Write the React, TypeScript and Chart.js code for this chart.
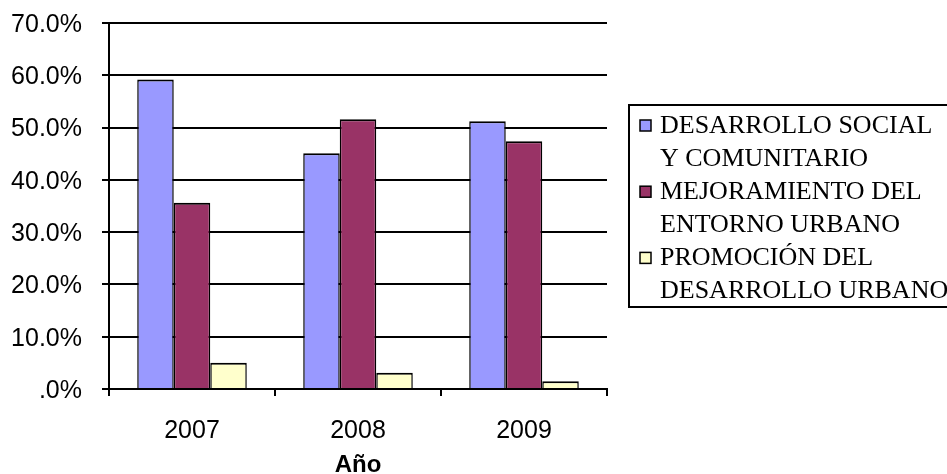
import React, { useEffect, useRef } from "react";
import { Chart, registerables } from "chart.js";

Chart.register(...registerables);

// Categories (years) and share of each programme line, in percent
const years = ["2007", "2008", "2009"];
const desarrolloSocial = [59.2, 45.1, 51.2];
const mejoramientoEntorno = [35.6, 51.6, 47.4];
const promocionDesarrollo = [5.0, 3.1, 1.5];

// Series names, split the way they wrap in the legend
const seriesNames: string[][] = [
  ["DESARROLLO SOCIAL", "Y COMUNITARIO"],
  ["MEJORAMIENTO DEL", "ENTORNO URBANO"],
  ["PROMOCIÓN DEL", "DESARROLLO URBANO"],
];
const seriesValues = [desarrolloSocial, mejoramientoEntorno, promocionDesarrollo];
const seriesColors = ["#9999FF", "#993366", "#FFFFCC"];

// Value axis
const yMin = 0;
const yMax = 70;
const yStep = 10;
const xTitle = "Año";

const SANS = "'Liberation Sans', Arial, sans-serif";
const SERIF = "'Liberation Serif', 'Times New Roman', serif";

// "#.0%" style: 70.0%, 5.0%, .0%
const formatPercent = (v: number) => {
  const s = v.toFixed(1);
  return (s.startsWith("0") ? s.slice(1) : s) + "%";
};

// Legend in a framed box to the right of the plot, with wrapped names
const boxedLegend = {
  id: "boxedLegend",
  afterDraw(chart: any) {
    const { ctx, chartArea } = chart;
    const left = chartArea.right + 22;
    const top = 105;
    const lineGap = 33.1;
    const firstLine = top + 21;
    ctx.save();
    ctx.strokeStyle = "#000";
    ctx.lineWidth = 2;
    ctx.strokeRect(left, top, 400, 202);
    ctx.font = `26px ${SERIF}`;
    ctx.textAlign = "left";
    ctx.textBaseline = "middle";
    let line = 0;
    chart.data.datasets.forEach((ds: any, i: number) => {
      const lines = seriesNames[i];
      const y0 = firstLine + line * lineGap;
      ctx.fillStyle = ds.backgroundColor;
      ctx.fillRect(left + 11, y0 - 6, 11, 11);
      ctx.lineWidth = 1.5;
      ctx.strokeStyle = "#000";
      ctx.strokeRect(left + 11, y0 - 6, 11, 11);
      ctx.fillStyle = "#000";
      lines.forEach((t, j) => ctx.fillText(t, left + 31, y0 + j * lineGap));
      line += lines.length;
    });
    ctx.restore();
  },
};

export default function App() {
  const canvasRef = useRef<HTMLCanvasElement | null>(null);

  useEffect(() => {
    if (!canvasRef.current) return;
    const chart = new Chart(canvasRef.current, {
      type: "bar",
      data: {
        labels: years,
        datasets: seriesValues.map((values, i) => ({
          label: seriesNames[i].join(" "),
          data: values,
          backgroundColor: seriesColors[i],
          borderColor: "#000",
          borderWidth: { top: 2, left: 1.5, right: 1.5, bottom: 0 },
          borderSkipped: false,
          categoryPercentage: 0.66,
          barPercentage: 1,
        })),
      },
      options: {
        responsive: false,
        animation: false,
        layout: { padding: { left: 0, top: 23, right: 340, bottom: 0 } },
        plugins: {
          legend: { display: false },
          tooltip: { enabled: false },
        },
        scales: {
          x: {
            afterFit: (scale: any) => {
              scale.height = 85;
              scale.paddingLeft = 0;
              scale.paddingRight = 0;
            },
            grid: {
              offset: true,
              drawOnChartArea: false,
              drawTicks: true,
              tickLength: 7,
              color: "#000",
              lineWidth: 2,
            },
            border: { display: true, color: "#000", width: 2 },
            ticks: {
              color: "#000",
              padding: 20,
              font: { family: SANS, size: 25 },
            },
            title: {
              display: true,
              text: xTitle,
              color: "#000",
              font: { family: SANS, size: 24, weight: "bold" },
              padding: { top: 0, bottom: -6 },
            },
          },
          y: {
            min: yMin,
            max: yMax,
            afterFit: (scale: any) => {
              scale.width = 109;
              scale.paddingTop = 0;
              scale.paddingBottom = 0;
            },
            grid: {
              color: "#000",
              lineWidth: 2,
              drawTicks: true,
              tickLength: 7,
            },
            border: { display: true, color: "#000", width: 2 },
            ticks: {
              stepSize: yStep,
              color: "#000",
              padding: 20,
              labelOffset: 2,
              font: { family: SANS, size: 25 },
              callback: (v: any) => formatPercent(Number(v)),
            },
          },
        },
      },
      plugins: [boxedLegend],
    });
    return () => chart.destroy();
  }, []);

  return (
    <div
      style={{
        position: "fixed",
        left: 0,
        top: 0,
        width: 947,
        height: 474,
        background: "#fff",
        overflow: "hidden",
      }}
    >
      <canvas ref={canvasRef} width={947} height={474} style={{ display: "block" }} />
    </div>
  );
}
